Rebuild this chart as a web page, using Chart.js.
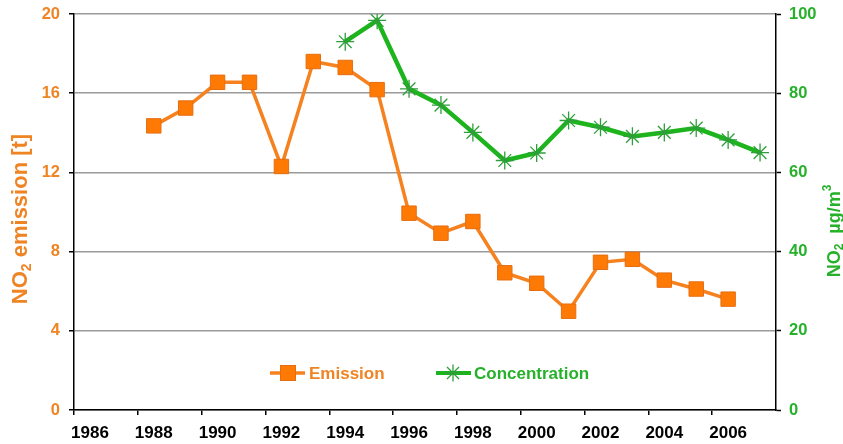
<!DOCTYPE html>
<html>
<head>
<meta charset="utf-8">
<script src="https://cdn.jsdelivr.net/npm/chart.js@4/dist/chart.umd.min.js"></script>
<style>
html,body{margin:0;padding:0;background:#fff;}
canvas{display:block;}
</style>
</head>
<body>
<canvas id="c" width="843" height="444"></canvas>
<script>
// ---- data ----
const years = ['1986','1987','1988','1989','1990','1991','1992','1993','1994','1995','1996','1997','1998','1999','2000','2001','2002','2003','2004','2005','2006','2007'];
const xTickYears = ['1986','1988','1990','1992','1994','1996','1998','2000','2002','2004','2006'];
const emission = [null,null,14.35,15.25,16.55,16.55,12.3,17.6,17.3,16.18,9.94,8.93,9.52,6.93,6.4,4.99,7.46,7.61,6.56,6.11,5.6,null];
const concentration = [null,null,null,null,null,null,null,null,93.0,98.4,81.1,77.0,70.1,63.0,64.9,73.1,71.4,69.1,70.1,71.2,68.2,65.0];
const emissionTicks = [0,4,8,12,16,20];
const concentrationTicks = [0,20,40,60,80,100];
const seriesLabels = ['Emission','Concentration'];
const leftTitle = ['NO','2',' emission [t]'];
const rightTitle = ['NO','2','  \u00b5g/m','3'];

const FONT = "'Liberation Sans', Arial, Helvetica, sans-serif";
const ORANGE = '#F5821F';
const ORANGE_TXT = '#EF8424';
const GREEN = '#1DB41D';
const GREEN_TXT = '#27B12B';

Chart.defaults.font.family = FONT;
Chart.defaults.font.weight = 'bold';

function drawRich(ctx, parts, cx, cy, color) {
  ctx.save();
  ctx.translate(cx, cy);
  ctx.rotate(-Math.PI / 2);
  let total = 0;
  parts.forEach(p => { ctx.font = 'bold ' + p.size + 'px ' + FONT; p.w = ctx.measureText(p.t).width; total += p.w; });
  let x = -total / 2;
  ctx.fillStyle = color;
  ctx.textAlign = 'left';
  ctx.textBaseline = 'alphabetic';
  parts.forEach(p => { ctx.font = 'bold ' + p.size + 'px ' + FONT; ctx.fillText(p.t, x, p.dy); x += p.w; });
  ctx.restore();
}

function drawStar(ctx, x, y, r) {
  ctx.beginPath();
  for (let k = 0; k < 4; k++) {
    const a = k * Math.PI / 4;
    ctx.moveTo(x - r * Math.sin(a), y - r * Math.cos(a));
    ctx.lineTo(x + r * Math.sin(a), y + r * Math.cos(a));
  }
  ctx.stroke();
}

const extrasPlugin = {
  id: 'extras',
  afterDraw(chart) {
    const ctx = chart.ctx;
    // axis titles
    drawRich(ctx, [
      {t: leftTitle[0], size: 22, dy: 8},
      {t: leftTitle[1], size: 14, dy: 12},
      {t: leftTitle[2], size: 22, dy: 8}
    ], 19, 219, ORANGE_TXT);
    drawRich(ctx, [
      {t: rightTitle[0], size: 18, dy: 6.5},
      {t: rightTitle[1], size: 12, dy: 10},
      {t: rightTitle[2], size: 18, dy: 6.5},
      {t: rightTitle[3], size: 12, dy: -2}
    ], 833, 231, GREEN_TXT);

    // legend inside the plot
    const ly = 373;
    ctx.save();
    ctx.lineCap = 'butt';
    // Emission
    ctx.strokeStyle = ORANGE; ctx.lineWidth = 3.5;
    ctx.beginPath(); ctx.moveTo(270, ly); ctx.lineTo(305, ly); ctx.stroke();
    ctx.fillStyle = '#FF7A05'; ctx.strokeStyle = '#E46E12'; ctx.lineWidth = 1;
    ctx.fillRect(280.5, ly - 7.5, 15, 15); ctx.strokeRect(280.5, ly - 7.5, 15, 15);
    ctx.font = 'bold 17px ' + FONT; ctx.textBaseline = 'middle'; ctx.textAlign = 'left';
    ctx.fillStyle = ORANGE_TXT; ctx.fillText(seriesLabels[0], 309, ly + 1);
    // Concentration
    ctx.strokeStyle = GREEN; ctx.lineWidth = 4;
    ctx.beginPath(); ctx.moveTo(436, ly); ctx.lineTo(471, ly); ctx.stroke();
    ctx.strokeStyle = '#2E9E3A'; ctx.lineWidth = 1.3;
    drawStar(ctx, 453, ly, 8.5);
    ctx.fillStyle = GREEN_TXT; ctx.fillText(seriesLabels[1], 474, ly + 1);
    ctx.restore();
  }
};

new Chart(document.getElementById('c'), {
  type: 'line',
  data: {
    labels: years,
    datasets: [
      {
        label: seriesLabels[1],
        data: concentration,
        yAxisID: 'y1',
        borderColor: GREEN,
        borderWidth: 4.5,
        pointStyle: 'star',
        pointRadius: 9,
        pointBorderColor: '#2E9E3A',
        pointBackgroundColor: '#2E9E3A',
        pointBorderWidth: 1.3,
        tension: 0,
        order: 2
      },
      {
        label: seriesLabels[0],
        data: emission,
        yAxisID: 'y',
        borderColor: ORANGE,
        borderWidth: 3.5,
        pointStyle: 'rect',
        pointRadius: 10.2,
        pointBackgroundColor: '#FF7A05',
        pointBorderColor: '#E46E12',
        pointBorderWidth: 1,
        tension: 0,
        order: 1
      }
    ]
  },
  options: {
    responsive: false,
    animation: false,
    layout: { padding: { top: 14, left: 0, right: 0, bottom: 0 } },
    plugins: { legend: { display: false }, tooltip: { enabled: false } },
    scales: {
      x: {
        type: 'category',
        offset: true,
        afterFit(s) { s.height = 34; },
        grid: {
          display: true,
          offset: true,
          drawOnChartArea: false,
          tickLength: 5,
          lineWidth: 1.5,
          tickWidth: 1.5,
          tickColor: (c) => (c.index % 2 === 0 ? '#000' : 'rgba(0,0,0,0)')
        },
        border: { display: true, color: '#000', width: 1.5 },
        ticks: {
          autoSkip: false,
          maxRotation: 0,
          padding: 8,
          color: '#000',
          font: { size: 17, weight: 'bold' },
          callback: function (v, i) { const l = years[i]; return xTickYears.includes(l) ? l : ''; }
        }
      },
      y: {
        position: 'left',
        min: 0, max: 20,
        afterFit(s) { s.width = 74; s.paddingTop = 0; s.paddingBottom = 0; },
        afterBuildTicks(s) { s.ticks = emissionTicks.map(v => ({ value: v })); },
        grid: { color: '#9a9a9a', lineWidth: 1.5, tickColor: '#000', tickLength: 5, tickWidth: 1.5 },
        border: { display: true, color: '#000', width: 1.5 },
        ticks: { color: ORANGE_TXT, padding: 9, font: { size: 16.5, weight: 'bold' } }
      },
      y1: {
        position: 'right',
        min: 0, max: 100,
        afterFit(s) { s.width = 67; s.paddingTop = 0; s.paddingBottom = 0; },
        afterBuildTicks(s) { s.ticks = concentrationTicks.map(v => ({ value: v })); },
        grid: { drawOnChartArea: false, tickColor: '#000', tickLength: 5, tickWidth: 1.5 },
        border: { display: true, color: '#000', width: 1.5 },
        ticks: { color: GREEN_TXT, padding: 8, font: { size: 16.5, weight: 'bold' } }
      }
    }
  },
  plugins: [extrasPlugin]
});
</script>
</body>
</html>
